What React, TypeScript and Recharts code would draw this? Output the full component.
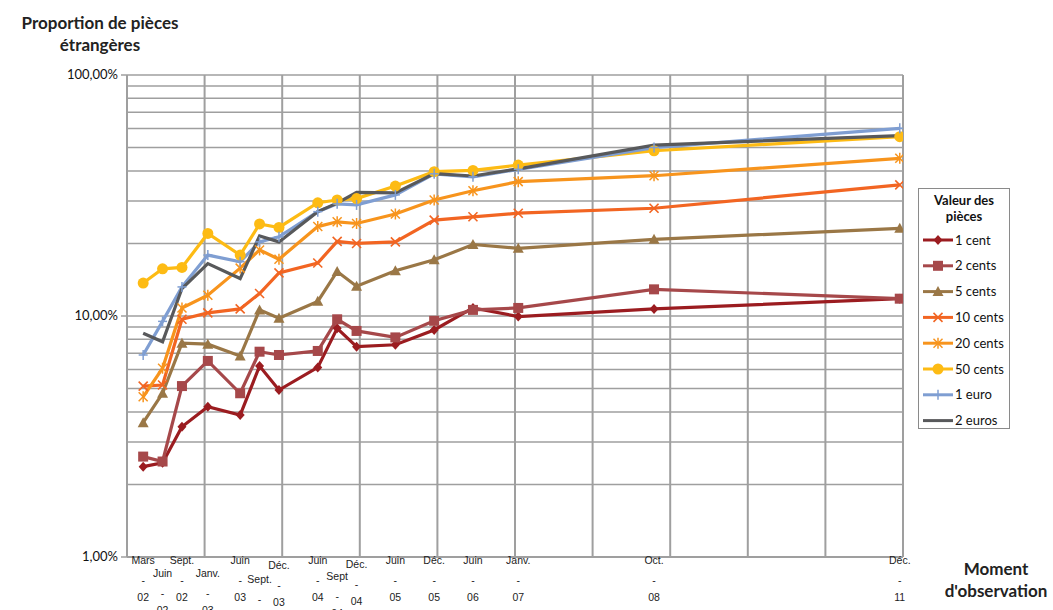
import React from "react";
import {
  LineChart,
  Line,
  XAxis,
  YAxis,
  CartesianGrid,
  ReferenceLine,
  Legend,
} from "recharts";

// ---------- data ----------
const dates = [
  "2002-03", "2002-06", "2002-09", "2003-01", "2003-06", "2003-09", "2003-12",
  "2004-06", "2004-09", "2004-12", "2005-06", "2005-12", "2006-06", "2007-01",
  "2008-10", "2011-12",
];
const monthLabels = [
  "Mars", "Juin", "Sept.", "Janv.", "Juin", "Sept.", "Déc.", "Juin", "Sept",
  "Déc.", "Juin", "Déc.", "Juin", "Janv.", "Oct.", "Déc.",
];
const yearLabels = [
  "02", "02", "02", "03", "03", "03", "03", "04", "04", "04", "05", "05", "06",
  "07", "08", "11",
];

const cent1 = [2.37, 2.46, 3.47, 4.2, 3.88, 6.2, 4.93, 6.12, 8.89, 7.46, 7.6, 8.75, 10.8, 9.95, 10.7, 11.8];
const cent2 = [2.61, 2.49, 5.12, 6.51, 4.78, 7.11, 6.89, 7.16, 9.69, 8.67, 8.15, 9.55, 10.6, 10.8, 12.9, 11.8];
const cent5 = [3.61, 4.78, 7.71, 7.64, 6.82, 10.6, 9.78, 11.5, 15.3, 13.3, 15.4, 17.1, 19.8, 19.1, 20.8, 23.1];
const cent10 = [5.12, 5.17, 9.69, 10.3, 10.7, 12.4, 15.1, 16.6, 20.4, 20.0, 20.3, 25.0, 25.8, 26.7, 28.0, 35.0];
const cent20 = [4.62, 6.07, 10.8, 12.2, 15.8, 18.8, 17.2, 23.5, 24.6, 24.2, 26.5, 30.3, 33.1, 36.1, 38.2, 45.1];
const cent50 = [13.7, 15.7, 15.9, 22.0, 17.9, 24.1, 23.3, 29.5, 30.3, 30.7, 34.6, 39.7, 40.2, 42.3, 48.5, 55.5];
const euro1 = [6.89, 9.5, 13.2, 17.9, 16.8, 20.3, 21.3, 27.1, 29.2, 28.9, 31.8, 38.9, 37.8, 40.6, 50.0, 60.1];
const euro2 = [8.48, 7.82, 13.0, 16.5, 14.3, 21.5, 20.3, 27.1, 29.4, 32.6, 32.4, 39.0, 38.1, 40.8, 51.2, 56.0];

const yTicks = [1, 2, 3, 4, 5, 6, 7, 8, 9, 10, 20, 30, 40, 50, 60, 70, 80, 90, 100];

// ---------- styling ----------
const series = [
  { key: "c1", name: "1 cent", values: cent1, color: "#9B1C20", shape: "diamond" },
  { key: "c2", name: "2 cents", values: cent2, color: "#A6484A", shape: "square" },
  { key: "c5", name: "5 cents", values: cent5, color: "#9A7746", shape: "triangle" },
  { key: "c10", name: "10 cents", values: cent10, color: "#F26522", shape: "x" },
  { key: "c20", name: "20 cents", values: cent20, color: "#F7941D", shape: "star" },
  { key: "c50", name: "50 cents", values: cent50, color: "#FDBB14", shape: "circle" },
  { key: "e1", name: "1 euro", values: euro1, color: "#7F9ED2", shape: "plus" },
  { key: "e2", name: "2 euros", values: euro2, color: "#58595B", shape: "none" },
];

// vertical offsets of staggered x labels (pixels)
const labelDrop = [0, 13, 0, 13, 0, 19, 5, 0, 16, 4, 0, 0, 0, 0, 0, 0];

const W = 1053;
const H = 610;
const PLOT_LEFT = 127;
const PLOT_RIGHT = 903;
const PLOT_TOP = 75;
const PLOT_BOTTOM = 557;
const GRID = "#9f9f9f";

const monthIndex = (d: string) => {
  const [y, m] = d.split("-").map(Number);
  return (y - 2002) * 12 + (m - 3);
};
const months = dates.map(monthIndex);
const X_DOMAIN: [number, number] = [-2.5, 117.5];
const vGrid = Array.from({ length: 11 }, (_, i) => X_DOMAIN[0] + 12 * i);

const rows = dates.map((d, i) => {
  const r: any = { m: months[i] };
  series.forEach((s) => (r[s.key] = s.values[i]));
  return r;
});

const Marker = ({ cx, cy, shape, color }: any) => {
  if (cx == null || cy == null) return null;
  switch (shape) {
    case "diamond":
      return <path d={`M${cx},${cy - 5} L${cx + 4.5},${cy} L${cx},${cy + 5} L${cx - 4.5},${cy} Z`} fill={color} />;
    case "square":
      return <rect x={cx - 5} y={cy - 5} width={10} height={10} fill={color} />;
    case "triangle":
      return <path d={`M${cx},${cy - 5.5} L${cx + 5.5},${cy + 4.5} L${cx - 5.5},${cy + 4.5} Z`} fill={color} />;
    case "x":
      return (
        <g stroke={color} strokeWidth={1.6}>
          <line x1={cx - 4.5} y1={cy - 4.5} x2={cx + 4.5} y2={cy + 4.5} />
          <line x1={cx - 4.5} y1={cy + 4.5} x2={cx + 4.5} y2={cy - 4.5} />
        </g>
      );
    case "star":
      return (
        <g stroke={color} strokeWidth={1.5}>
          <line x1={cx - 4.5} y1={cy - 4.5} x2={cx + 4.5} y2={cy + 4.5} />
          <line x1={cx - 4.5} y1={cy + 4.5} x2={cx + 4.5} y2={cy - 4.5} />
          <line x1={cx} y1={cy - 5.5} x2={cx} y2={cy + 5.5} />
        </g>
      );
    case "circle":
      return <circle cx={cx} cy={cy} r={5.5} fill={color} />;
    case "plus":
      return (
        <g stroke={color} strokeWidth={1.5}>
          <line x1={cx - 4.5} y1={cy} x2={cx + 4.5} y2={cy} />
          <line x1={cx} y1={cy - 5} x2={cx} y2={cy + 5} />
        </g>
      );
    default:
      return null;
  }
};

const XTick = (props: any) => {
  const { x, payload } = props;
  const i = months.indexOf(payload.value);
  if (i < 0) return null;
  const d = labelDrop[i];
  const base = PLOT_BOTTOM + 7 + d;
  const st = { fontFamily: "'Liberation Sans', Arial, sans-serif", fontSize: 10.5, fill: "#222" };
  return (
    <g>
      <text x={x} y={base} textAnchor="middle" style={st}>{monthLabels[i]}</text>
      <text x={x} y={base + 20} textAnchor="middle" style={st}>-</text>
      <text x={x} y={base + 37} textAnchor="middle" style={st}>{yearLabels[i]}</text>
    </g>
  );
};

const YTick = (props: any) => {
  const { y, payload } = props;
  const v = payload.value;
  const lg = Math.log10(v);
  if (Math.abs(lg - Math.round(lg)) > 1e-9) return null;
  return (
    <g>
      <line x1={PLOT_LEFT - 6} x2={PLOT_LEFT} y1={y} y2={y} stroke={GRID} strokeWidth={1.5} />
      <text
        x={PLOT_LEFT - 9}
        y={y + 4}
        textAnchor="end"
        style={{ fontFamily: "Lato, 'Open Sans', sans-serif", fontSize: 13, fill: "#111" }}
      >
        {v.toFixed(2).replace(".", ",") + "%"}
      </text>
    </g>
  );
};

const LegendBox = () => (
  <div
    style={{
      width: 92,
      height: 241,
      boxSizing: "border-box",
      border: "1px solid #8a8a8a",
      background: "#fff",
      fontFamily: "Lato, 'Open Sans', sans-serif",
      color: "#111",
    }}
  >
    <div style={{ textAlign: "center", fontSize: 13, fontWeight: 700, lineHeight: "16px", marginTop: 3 }}>
      Valeur des
      <br />
      pièces
    </div>
    <svg width={90} height={210} style={{ display: "block", marginTop: 0 }}>
      {series.map((s, i) => {
        const cy = 16 + i * 25.8;
        return (
          <g key={s.key}>
            <line x1={4} x2={34} y1={cy} y2={cy} stroke={s.color} strokeWidth={3} />
            <Marker cx={19} cy={cy} shape={s.shape} color={s.color} />
            <text x={36} y={cy + 4.5} style={{ fontSize: 13, fill: "#111", fontFamily: "Lato, 'Open Sans', sans-serif" }}>
              {s.name}
            </text>
          </g>
        );
      })}
    </svg>
  </div>
);

export default function App() {
  const titleStyle: React.CSSProperties = {
    position: "absolute",
    fontFamily: "Lato, 'Open Sans', sans-serif",
    fontWeight: 700,
    fontSize: 17,
    color: "#222",
    textAlign: "center",
    lineHeight: "22px",
  };
  return (
    <div style={{ position: "absolute", left: 0, top: 0, width: W, height: H, background: "#fff" }}>
      <LineChart
        width={W}
        height={H}
        data={rows}
        margin={{ top: PLOT_TOP, right: W - PLOT_RIGHT, bottom: 0, left: 0 }}
      >
        <CartesianGrid vertical={false} stroke={GRID} strokeWidth={1.5} />
        {vGrid.map((g) => (
          <ReferenceLine key={g} x={g} stroke={GRID} strokeWidth={2} ifOverflow="extendDomain" />
        ))}
        <XAxis
          dataKey="m"
          type="number"
          domain={X_DOMAIN}
          ticks={months}
          interval={0}
          tick={XTick}
          tickLine={false}
          axisLine={{ stroke: GRID, strokeWidth: 2 }}
          height={H - PLOT_BOTTOM}
          allowDataOverflow
        />
        <YAxis
          type="number"
          scale="log"
          domain={[1, 100]}
          ticks={yTicks}
          interval={0}
          tick={YTick}
          tickLine={false}
          axisLine={{ stroke: GRID, strokeWidth: 2 }}
          width={PLOT_LEFT}
          allowDataOverflow
        />
        {series.map((s) => (
          <Line
            key={s.key}
            dataKey={s.key}
            name={s.name}
            stroke={s.color}
            strokeWidth={3.2}
            isAnimationActive={false}
            dot={(p: any) => <Marker key={`${s.key}-${p.index}`} cx={p.cx} cy={p.cy} shape={s.shape} color={s.color} />}
            activeDot={false}
          />
        ))}
        <Legend
          layout="horizontal"
          align="center"
          verticalAlign="middle"
          content={() => <LegendBox />}
          wrapperStyle={{ position: "absolute", left: 918, top: 188, width: 92, height: 241 }}
        />
      </LineChart>
      <div style={{ ...titleStyle, left: 4, top: 12, width: 192 }}>
        Proportion de pièces
        <br />
        étrangères
      </div>
      <div style={{ ...titleStyle, left: 938, top: 558, width: 116 }}>
        Moment
        <br />
        d'observation
      </div>
    </div>
  );
}
